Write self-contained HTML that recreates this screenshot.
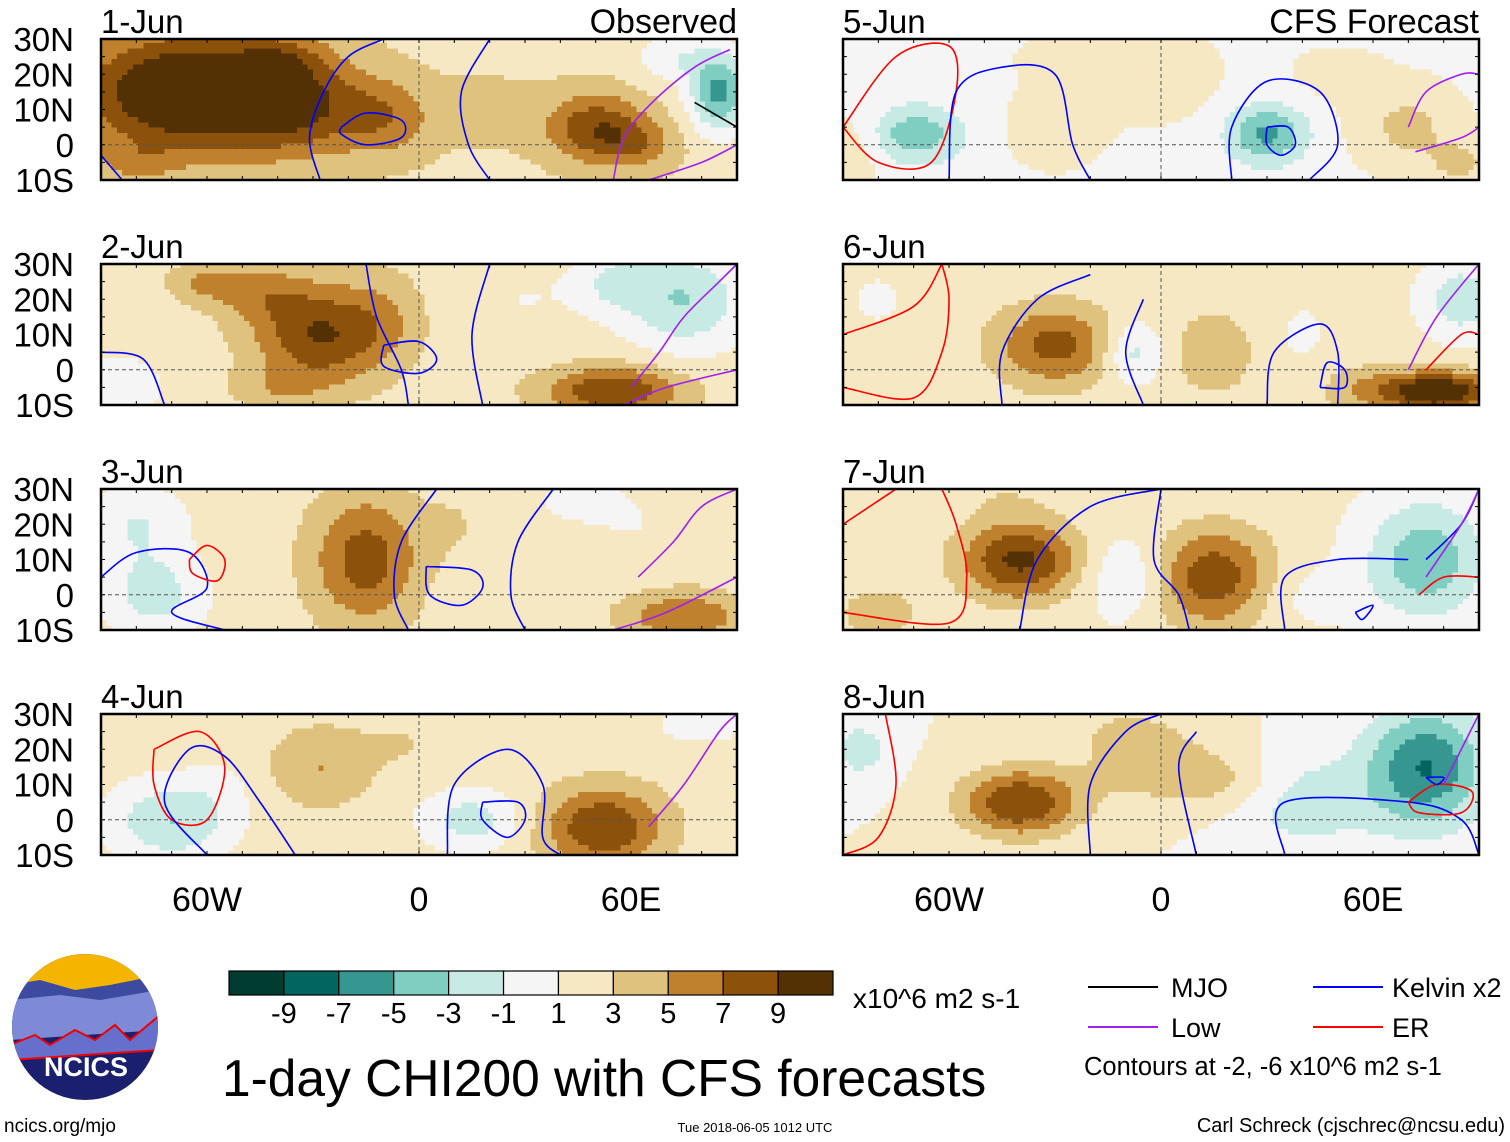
<!DOCTYPE html>
<html><head><meta charset="utf-8">
<style>
body{margin:0;background:#fff;width:1510px;height:1142px;overflow:hidden;font-family:"Liberation Sans",sans-serif;}
svg{position:absolute;left:0;top:0}
</style></head>
<body>
<svg id="chart" width="1510" height="1142" viewBox="0 0 1510 1142" xmlns="http://www.w3.org/2000/svg"></svg>
<script>
// ---- data ----
const panelTitles = ["1-Jun","2-Jun","3-Jun","4-Jun","5-Jun","6-Jun","7-Jun","8-Jun"];
const latTicks = ["30N","20N","10N","0","10S"];
const latTickValues = [30,20,10,0,-10];
const lonTicks = ["60W","0","60E"];
const lonTickValues = [-60,0,60];
const levels = [-9,-7,-5,-3,-1,1,3,5,7,9];
const colorbarLabels = ["-9","-7","-5","-3","-1","1","3","5","7","9"];
const palette = ["#003c30","#01665e","#35978f","#80cdc1","#c7eae5","#f5f5f5","#f6e8c3","#dfc27d","#bf812d","#8c510a","#543005"];
// base anomaly per panel
const panelBase = [2.5,2,2,2,0.6,1.8,1.5,1];
// blobs: [lon, lat, sigmaLon, sigmaLat, amplitude]
const blobs1 = [[-65,15,22,12,10],[-35,12,12,10,5],[-10,8,10,8,4],[50,5,10,7,6],[62,0,8,5,3],[85,15,6,8,-8],[72,25,8,5,-3],[20,10,10,8,1],[-80,-5,8,4,2],[-40,25,8,4,2]];
const blobs2 = [[-28,10,13,10,7],[-45,22,10,6,3],[-60,25,8,4,3],[-10,15,8,10,2],[55,-6,14,5,7],[75,20,12,10,-5],[55,25,8,6,-3],[-85,-5,8,6,-3],[30,20,10,8,-1],[-40,-5,10,4,2]];
const blobs3 = [[-15,10,11,13,6],[-75,0,10,8,-4],[-80,20,10,8,-3],[75,-6,12,5,5],[20,-2,12,6,-1],[60,20,10,8,-1],[45,27,8,4,-2],[10,20,6,6,1]];
const blobs4 = [[-28,15,10,8,3],[-70,0,12,8,-5],[52,-2,12,8,7],[15,0,10,6,-4],[80,27,10,4,-2],[-5,22,8,6,1],[-55,10,6,6,-1]];
const blobs5 = [[-70,3,10,6,-5],[30,3,8,6,-6],[70,5,10,8,3],[0,20,10,8,2],[-30,5,10,8,1.5],[-85,0,6,8,2],[-25,25,12,5,1],[50,20,10,6,1],[85,-5,6,4,3]];
const blobs6 = [[-30,7,12,8,6],[78,-6,12,4,10],[-8,5,6,6,-4],[15,5,8,8,3],[40,10,8,10,-1],[85,20,8,8,-4],[-80,20,8,8,-1],[55,-5,8,5,2]];
const blobs7 = [[-40,10,12,8,8],[15,5,12,10,7],[75,10,12,12,-6],[-10,5,8,8,-3],[40,0,12,6,-1.5],[-80,-5,8,5,3],[-45,28,10,4,1]];
const blobs8 = [[-40,5,12,7,8],[0,15,15,8,3],[75,15,12,12,-8],[40,5,15,10,-3],[-85,20,6,6,-3],[-10,25,10,5,2],[20,10,10,6,2]];
const allBlobs = [blobs1,blobs2,blobs3,blobs4,blobs5,blobs6,blobs7,blobs8];
// contour lines: [color, [[lon,lat],...]]
const lines1 = [["#00f",[[-28,-10],[-31,2],[-27,15],[-20,25],[-10,30]]],["#00f",[[-22,5],[-15,9],[-5,7],[-5,2],[-15,0],[-22,3],[-22,5]]],["#00f",[[20,30],[12,15],[14,0],[20,-10]]],["#00f",[[-90,-3],[-84,-10]]],["#a020f0",[[55,-10],[58,2],[66,12],[78,22],[88,27]]],["#a020f0",[[65,-10],[80,-5],[90,0]]],["#000",[[78,12],[90,5]]]];
const lines2 = [["#00f",[[-15,30],[-12,15],[-5,0],[-3,-10]]],["#00f",[[-10,7],[0,8],[5,3],[0,-1],[-10,1],[-10,7]]],["#00f",[[20,30],[15,10],[18,-10]]],["#00f",[[-90,5],[-78,3],[-72,-10]]],["#a020f0",[[60,-5],[68,5],[75,15],[85,25],[90,30]]],["#a020f0",[[58,-10],[70,-5],[90,0]]]];
const lines3 = [["#00f",[[-90,5],[-80,12],[-65,12],[-60,2],[-70,-5],[-55,-10]]],["#f00",[[-65,10],[-60,14],[-55,10],[-57,4],[-64,6],[-65,10]]],["#00f",[[5,30],[-5,15],[-7,0],[-3,-10]]],["#00f",[[2,8],[15,7],[18,2],[12,-3],[3,0],[2,8]]],["#00f",[[38,30],[28,15],[26,0],[30,-10]]],["#a020f0",[[62,5],[72,15],[80,25],[90,30]]],["#a020f0",[[55,-10],[70,-5],[90,5]]]];
const lines4 = [["#f00",[[-75,20],[-62,25],[-55,15],[-60,0],[-70,0],[-75,10],[-75,20]]],["#00f",[[-60,-10],[-72,5],[-65,20],[-55,18],[-45,5],[-35,-10]]],["#00f",[[8,-10],[10,10],[25,20],[35,10],[35,-5],[40,-10]]],["#00f",[[18,5],[28,5],[30,0],[25,-5],[18,0],[18,5]]],["#a020f0",[[65,-2],[75,10],[85,25],[90,30]]]];
const lines5 = [["#f00",[[-90,5],[-75,25],[-60,28],[-58,15],[-65,-5],[-80,-5],[-90,5]]],["#00f",[[-60,-10],[-58,15],[-45,22],[-30,20],[-25,0],[-20,-10]]],["#00f",[[20,-10],[20,5],[30,18],[45,15],[50,0],[42,-10]]],["#00f",[[30,5],[36,5],[38,0],[34,-3],[30,0],[30,5]]],["#a020f0",[[70,5],[75,15],[85,20],[90,20]]],["#a020f0",[[72,-2],[85,2],[90,5]]]];
const lines6 = [["#f00",[[-90,10],[-70,18],[-62,30]]],["#f00",[[-90,-5],[-70,-8],[-62,5],[-60,20],[-62,30]]],["#00f",[[-45,-10],[-45,5],[-35,20],[-20,27]]],["#00f",[[-5,20],[-10,5],[-5,-10]]],["#00f",[[30,-10],[32,5],[45,13],[50,5],[50,-10]]],["#00f",[[45,-5],[52,-5],[52,0],[47,2],[45,-5]]],["#a020f0",[[70,0],[78,15],[90,30]]],["#f00",[[75,0],[85,10],[90,10]]]];
const lines7 = [["#f00",[[-90,20],[-75,30]]],["#f00",[[-90,-5],[-60,-8],[-55,5],[-58,20],[-62,30]]],["#00f",[[-40,-10],[-35,10],[-20,25],[0,30]]],["#00f",[[0,30],[-2,10],[5,0],[8,-10]]],["#00f",[[35,-10],[35,5],[50,10],[70,10]]],["#00f",[[75,10],[85,20],[90,30]]],["#f00",[[73,0],[80,5],[90,5]]],["#00f",[[55,-5],[60,-3],[57,-7],[55,-5]]],["#a020f0",[[75,5],[85,20],[90,30]]]];
const lines8 = [["#f00",[[-90,-10],[-80,-5],[-75,10],[-78,30]]],["#00f",[[-20,-10],[-20,10],[-10,25],[0,30]]],["#00f",[[10,-10],[5,15],[10,25]]],["#00f",[[35,-10],[35,5],[70,5],[85,0],[90,-10]]],["#f00",[[70,5],[78,10],[88,8],[85,2],[73,2],[70,5]]],["#00f",[[75,12],[80,12],[78,10],[75,12]]],["#a020f0",[[80,10],[90,30]]]];
const allLines = [lines1,lines2,lines3,lines4,lines5,lines6,lines7,lines8];

// ---- layout ----
const NS="http://www.w3.org/2000/svg";
const svg=document.getElementById('chart');
function el(t,a,p){const e=document.createElementNS(NS,t);for(const k in a)e.setAttribute(k,a[k]);(p||svg).appendChild(e);return e;}
const colX=[101,843], rowY=[39,264,489,714], PW=636, PH=141;
function xs(ox,lon){return ox+(lon+90)/180*PW;}
function ys(oy,lat){return oy+(30-lat)/40*PH;}
function colorFor(v){let i=0;while(i<levels.length&&v>levels[i])i++;return palette[i];}
function smoothPath(pts){
  if(pts.length<3) return 'M'+pts.map(p=>p.join(',')).join(' L');
  let d='M'+pts[0][0].toFixed(1)+','+pts[0][1].toFixed(1);
  for(let i=0;i<pts.length-1;i++){
    const p0=pts[i-1]||pts[i],p1=pts[i],p2=pts[i+1],p3=pts[i+2]||p2;
    const c1=[p1[0]+(p2[0]-p0[0])/6,p1[1]+(p2[1]-p0[1])/6],c2=[p2[0]-(p3[0]-p1[0])/6,p2[1]-(p3[1]-p1[1])/6];
    d+=' C'+c1[0].toFixed(1)+','+c1[1].toFixed(1)+' '+c2[0].toFixed(1)+','+c2[1].toFixed(1)+' '+p2[0].toFixed(1)+','+p2[1].toFixed(1);
  }
  return d;
}

for(let p=0;p<8;p++){
  const ox=colX[p<4?0:1], oy=rowY[p%4];
  const g=el('g',{});
  
  
  const cg=el('g',{'shape-rendering':'crispEdges'},g);
  const step=1.5;
  for(let lon=-90;lon<90;lon+=step){
    for(let lat=-10;lat<30;lat+=step){
      const cl=lon+step/2, ct=lat+step/2;
      let v=panelBase[p];
      for(const b of allBlobs[p]){const dx=(cl-b[0])/b[2],dy=(ct-b[1])/b[3];v+=b[4]*Math.exp(-(dx*dx+dy*dy)/2);}
      const x0=xs(ox,lon),x1=xs(ox,Math.min(90,lon+step)),y0=ys(oy,Math.min(30,lat+step)),y1=ys(oy,lat);
      el('rect',{x:x0,y:y0,width:x1-x0+0.6,height:y1-y0+0.6,fill:colorFor(v)},cg);
    }
  }
  const eq=el('line',{x1:ox,x2:ox+PW,y1:ys(oy,0),y2:ys(oy,0),stroke:'#555','stroke-dasharray':'4,3','stroke-width':1},g);
  
  
  el('line',{x1:xs(ox,0),x2:xs(ox,0),y1:oy,y2:oy+PH,stroke:'#555','stroke-dasharray':'4,3','stroke-width':1},g);
  for(const ln of allLines[p]){
    const pts=ln[1].map(q=>[xs(ox,q[0]),ys(oy,q[1])]);
    const path=el('path',{d:smoothPath(pts),fill:'none',stroke:ln[0],'stroke-width':1.6,'stroke-linejoin':'round'},g);
    
    
  }
  el('rect',{x:ox,y:oy,width:PW,height:PH,fill:'none',stroke:'#000','stroke-width':2.5},g);
  for(let lon=-90;lon<=90;lon+=10){const x=xs(ox,lon);el('line',{x1:x,x2:x,y1:oy,y2:oy+4,stroke:'#000','stroke-width':1},g);el('line',{x1:x,x2:x,y1:oy+PH,y2:oy+PH-4,stroke:'#000','stroke-width':1},g);}
  for(let lat=-10;lat<=30;lat+=5){const y=ys(oy,lat);el('line',{x1:ox,x2:ox+4,y1:y,y2:y,stroke:'#000','stroke-width':1},g);el('line',{x1:ox+PW,x2:ox+PW-4,y1:y,y2:y,stroke:'#000','stroke-width':1},g);}
  const t=el('text',{x:ox,y:oy-6,'font-size':33,fill:'#000'},g);t.textContent=panelTitles[p];
  
  
  if(p===0||p===4){const s=el('text',{x:ox+PW,y:oy-6,'font-size':34,'text-anchor':'end'},g);s.textContent=p===0?'Observed':'CFS Forecast';
    
    }
  if(p<4){latTicks.forEach((lb,i)=>{const tt=el('text',{x:74,y:ys(oy,latTickValues[i])+12,'font-size':33,'text-anchor':'end'},g);tt.textContent=lb;
    
    });}
  if(p%4===3){lonTicks.forEach((lb,i)=>{const tt=el('text',{x:xs(ox,lonTickValues[i]),y:911,'font-size':34,'text-anchor':'middle'},g);tt.textContent=lb;
    
    });}
}
const cb=el('g',{});


const cbx=229,cbw=604/11;
palette.forEach((c,i)=>{el('rect',{x:cbx+i*cbw,y:971,width:cbw,height:24,fill:c,stroke:'#000','stroke-width':1.2},cb);});
colorbarLabels.forEach((lb,i)=>{const t=el('text',{x:cbx+(i+1)*cbw,y:1023,'font-size':29,'text-anchor':'middle'},cb);t.textContent=lb;});
const u=el('text',{x:853,y:1008,'font-size':28},cb);u.textContent='x10^6 m2 s-1';
</script>
<svg width="1510" height="1142" style="pointer-events:none">
  <g>
    <clipPath id="lc"><circle cx="85" cy="1027" r="73"/></clipPath>
    <g clip-path="url(#lc)">
      <rect x="10" y="950" width="150" height="160" fill="#1a1f6e"/>
      <rect x="10" y="950" width="150" height="40" fill="#f4b400"/>
      <path d="M10 985 L40 980 L75 990 L110 985 L160 975 L160 1020 L10 1030Z" fill="#3c4aa0"/>
      <path d="M10 1000 L60 995 L100 1000 L160 990 L160 1030 L10 1040Z" fill="#7f8ad6"/>
      <path d="M10 1045 L35 1035 L50 1045 L75 1030 L95 1040 L115 1025 L130 1040 L160 1015 L160 1050 L10 1060Z" fill="#6670cc" stroke="#e00" stroke-width="2"/>
    </g>
    <text x="86" y="1076" font-size="27" font-weight="bold" fill="#fff" text-anchor="middle">NCICS</text>
  </g>
  <text x="4" y="1132" font-size="19">ncics.org/mjo</text>
  <text x="222" y="1096" font-size="51.5">1-day CHI200 with CFS forecasts</text>
  <text x="755" y="1132" font-size="13" text-anchor="middle">Tue 2018-06-05 1012 UTC</text>
  <text x="1505" y="1132" font-size="20" text-anchor="end">Carl Schreck (cjschrec@ncsu.edu)</text>
  <g>
    <line x1="1088" x2="1158" y1="987" y2="987" stroke="#000" stroke-width="2"/>
    <text x="1171" y="997" font-size="27">MJO</text>
    <line x1="1313" x2="1383" y1="987" y2="987" stroke="#00f" stroke-width="2"/>
    <text x="1392" y="997" font-size="27">Kelvin x2</text>
    <line x1="1088" x2="1158" y1="1027" y2="1027" stroke="#a020f0" stroke-width="2"/>
    <text x="1171" y="1037" font-size="27">Low</text>
    <line x1="1313" x2="1383" y1="1027" y2="1027" stroke="#f00" stroke-width="2"/>
    <text x="1392" y="1037" font-size="27">ER</text>
    <text x="1084" y="1075" font-size="25.5">Contours at -2, -6 x10^6 m2 s-1</text>
  </g>
</svg>
</body></html>
